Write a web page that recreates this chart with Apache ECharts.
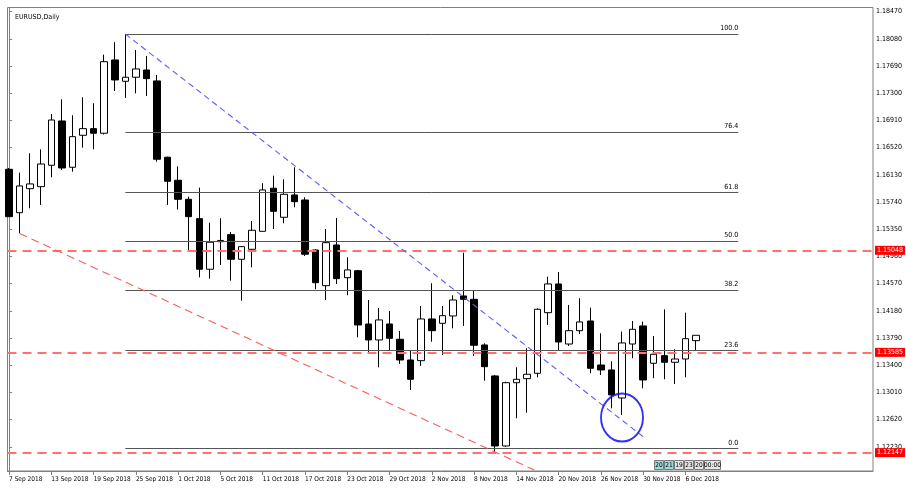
<!DOCTYPE html>
<html>
<head>
<meta charset="utf-8">
<script src="https://cdn.jsdelivr.net/npm/echarts@6/dist/echarts.min.js"></script>
<style>
html,body{margin:0;padding:0;background:#fff;}
#chart{width:906px;height:494px;}
</style>
</head>
<body>
<div id="chart"></div>
<script>
// ---- data (daily EURUSD bars, 7 Sep 2018 .. 7 Dec 2018) ----
const openP  = [1.16210,1.15588,1.15932,1.15961,1.16268,1.16903,1.16239,1.16698,1.16793,1.16727,
                1.17778,1.17472,1.17530,1.17634,1.17477,1.16383,1.16053,1.15780,1.15502,1.14777,
                1.15172,1.15273,1.14920,1.15063,1.15321,1.15938,1.15522,1.15842,1.15770,1.15053,
                1.14541,1.15125,1.14656,1.14756,1.13992,1.13763,1.13992,1.13773,1.13476,1.13466,
                1.14064,1.14002,1.14107,1.14394,1.14346,1.13691,1.13247,1.12243,1.13150,1.13208,
                1.13285,1.14154,1.14566,1.13705,1.13896,1.14035,1.13404,1.13333,1.12931,1.13705,
                1.13964,1.13429,1.13538,1.13443,1.13490,1.13753];
const closeP = [1.15531,1.15971,1.16000,1.16286,1.16917,1.16229,1.16678,1.16793,1.16727,1.17753,
                1.17491,1.17530,1.17649,1.17510,1.16354,1.16038,1.15780,1.15531,1.14777,1.15164,
                1.15190,1.14920,1.15101,1.15336,1.15914,1.15608,1.15852,1.15746,1.14992,1.14584,
                1.15158,1.14642,1.14767,1.13978,1.13763,1.14050,1.13787,1.13476,1.13199,1.14064,
                1.13896,1.14111,1.14336,1.14346,1.13687,1.13380,1.12243,1.13150,1.13199,1.13271,
                1.14203,1.14566,1.13734,1.13896,1.14021,1.13357,1.13333,1.12974,1.13720,1.13916,
                1.13189,1.13558,1.13443,1.13490,1.13781,1.13830];
const lowP   = [1.15526,1.15293,1.15651,1.15699,1.16096,1.16200,1.16176,1.16520,1.16497,1.16709,
                1.17333,1.17233,1.17300,1.17262,1.16319,1.15699,1.15634,1.15053,1.14662,1.14642,
                1.14838,1.14613,1.14326,1.14805,1.15321,1.15354,1.15436,1.15665,1.14967,1.14490,
                1.14336,1.14566,1.14404,1.13801,1.13572,1.13371,1.13619,1.13419,1.13046,1.13390,
                1.13738,1.13548,1.13930,1.13964,1.13533,1.13179,1.12147,1.12233,1.12640,1.12720,
                1.13228,1.13978,1.13609,1.13677,1.13849,1.13285,1.13261,1.12783,1.12687,1.13500,
                1.13070,1.13214,1.13199,1.13132,1.13228,1.13619];
const highP  = [1.16229,1.16162,1.16440,1.16497,1.17003,1.17214,1.16985,1.17243,1.17157,1.17854,
                1.18032,1.18150,1.17921,1.17835,1.17563,1.16391,1.16251,1.15818,1.15947,1.15445,
                1.15508,1.15311,1.15111,1.15469,1.16010,1.16119,1.16067,1.16239,1.15809,1.15063,
                1.15354,1.15512,1.14949,1.14767,1.14336,1.14222,1.14179,1.13892,1.13605,1.14250,
                1.14576,1.14250,1.14404,1.15014,1.14480,1.13715,1.13261,1.13165,1.13371,1.13644,
                1.14217,1.14670,1.14738,1.14265,1.14361,1.14226,1.13859,1.13457,1.13882,1.14035,
                1.14025,1.13820,1.14203,1.13629,1.14154,1.13830];

// x tick labels (bar index -> date text)
const xTickIdx    = [0,4,8,12,16,20,24,28,32,36,40,44,48,52,56,60,64];
const xTickLabels = ['7 Sep 2018','13 Sep 2018','19 Sep 2018','25 Sep 2018','1 Oct 2018','5 Oct 2018',
                     '11 Oct 2018','17 Oct 2018','23 Oct 2018','29 Oct 2018','2 Nov 2018','8 Nov 2018',
                     '14 Nov 2018','20 Nov 2018','26 Nov 2018','30 Nov 2018','6 Dec 2018'];
// y tick labels
const yTicks = [1.12230,1.12620,1.13010,1.13400,1.13790,1.14180,1.14570,1.14960,1.15350,
                1.15740,1.16130,1.16520,1.16910,1.17300,1.17690,1.18080,1.18470];

// horizontal red levels
const redLevels = [1.15048,1.13585,1.12147];
// fibonacci retracement
const fibNames  = ['100.0','76.4','61.8','50.0','38.2','23.6','0.0'];
const fibPrices = [1.18150,1.16748,1.15880,1.15180,1.14479,1.13612,1.12210];
const fibStartIdx = 11, fibEndIdx = 69;
// trend lines  [index, price]
const blueTrend = [[11,1.18150],[60,1.12376]];
const redTrend  = [[1,1.15290],[49.7,1.11898]];
// circle annotation
const circlePt = [58,1.12651];
// timer boxes text
const timerTexts = ['20','21','19','23','20','00:00'];

const X_MIN = -0.15, X_MAX = 81.75;
const FONT = "'Liberation Sans Narrow','DejaVu Sans Condensed','Liberation Sans',sans-serif";

const candleData = openP.map((o,i)=>[i,o,closeP[i],lowP[i],highP[i]]);

const timerW = [9,9,9,9,9,16];
const timerBg = ['#9ed9d9','#9ed9d9','#e6e6e6','#e6e6e6','#e6e6e6','#e6e6e6'];
let tx = 0;
const timerChildren = [];
timerTexts.forEach((t,k)=>{
  const w = timerW[k];
  timerChildren.push({type:'rect', shape:{x:tx, y:0, width:w, height:9}, style:{fill:timerBg[k], stroke:'#7a7a7a', lineWidth:1}});
  timerChildren.push({type:'text', x:tx+w/2, y:1.5, style:{text:t, fill:'#000', fontSize:6.5, fontFamily:FONT, align:'center'}});
  tx += w + 1;
});

const chart = echarts.init(document.getElementById('chart'), null, {renderer:'canvas'});
chart.setOption({
  animation:false,
  backgroundColor:'#ffffff',
  grid:{left:7.5, right:33, top:7.5, bottom:23, show:true, borderColor:'#808080', borderWidth:1, backgroundColor:'#ffffff'},
  title:{text:'EURUSD,Daily', left:10, top:9,
         textStyle:{fontSize:7, fontWeight:'normal', color:'#000', fontFamily:FONT}},
  xAxis:{
    type:'value', min:X_MIN, max:X_MAX,
    axisLine:{show:true, lineStyle:{color:'#808080'}},
    splitLine:{show:false},
    axisTick:{show:true, customValues:xTickIdx, length:4, lineStyle:{color:'#808080'}},
    axisLabel:{customValues:xTickIdx, align:'left', margin:5, fontSize:6.5, color:'#000', fontFamily:FONT,
      formatter:(v)=>{const k=xTickIdx.indexOf(Math.round(v)); return k>=0?xTickLabels[k]:'';}}
  },
  yAxis:{
    type:'value', position:'right', min:1.11884, max:1.18530, scale:true,
    axisLine:{show:true, lineStyle:{color:'#808080'}},
    splitLine:{show:false},
    axisTick:{show:true, customValues:yTicks, length:3, lineStyle:{color:'#808080'}},
    axisLabel:{customValues:yTicks, margin:3, fontSize:7, color:'#000', fontFamily:FONT,
      formatter:(v)=>v.toFixed(5)}
  },
  series:[
    {
      type:'candlestick',
      data:candleData,
      encode:{x:0, y:[1,2,3,4]},
      barWidth:7,
      clip:true,
      itemStyle:{color:'#ffffff', color0:'#000000', borderColor:'#000000', borderColor0:'#000000', borderWidth:1},
      z:3,
      markLine:{
        silent:true, symbol:['none','none'], animation:false,
        data:[
          // red horizontal levels
          ...redLevels.map(v=>[
            {coord:[X_MIN,v], lineStyle:{color:'#ff7070', width:1.8, type:[9,6]},
             label:{show:true, position:'end', distance:2, formatter:v.toFixed(5),
                    backgroundColor:'#ff0000', color:'#ffffff', padding:[1,2,1,2], fontSize:7, fontFamily:FONT}},
            {coord:[X_MAX,v]}
          ]),
          // fib levels
          ...fibPrices.map((v,k)=>[
            {coord:[fibStartIdx,v], lineStyle:{color:'#555555', width:1, type:'solid'},
             label:{show:true, position:'insideEndTop', distance:[0,2], formatter:fibNames[k], color:'#000', fontSize:7, fontFamily:FONT}},
            {coord:[fibEndIdx,v]}
          ]),
          // blue trend
          [{coord:blueTrend[0], lineStyle:{color:'#5c5cff', width:1.1, type:[6,4]}, label:{show:false}},
           {coord:blueTrend[1]}],
          // red trend
          [{coord:redTrend[0], lineStyle:{color:'#ff5a5a', width:1.1, type:[8,5]}, label:{show:false}},
           {coord:redTrend[1]}]
        ]
      }
    },
    {
      type:'scatter',
      data:[circlePt],
      symbol:'circle',
      symbolSize:[42,48],
      itemStyle:{color:'rgba(0,0,0,0)', borderColor:'#0000ee', borderWidth:2},
      z:5, silent:true
    }
  ],
  graphic:[{
    type:'group', left:654, top:460,
    children:timerChildren
  }]
});
</script>
</body>
</html>
